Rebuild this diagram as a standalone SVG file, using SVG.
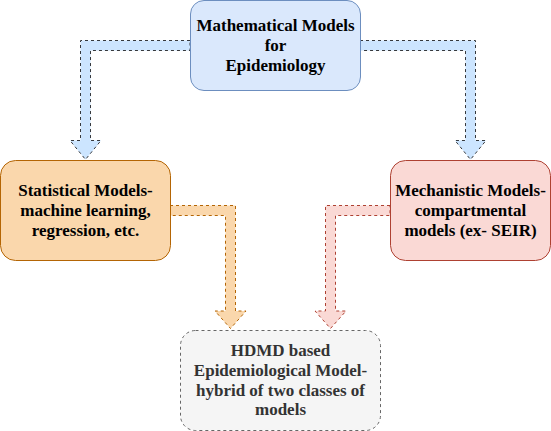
<svg xmlns="http://www.w3.org/2000/svg" width="551" height="431" viewBox="0 0 551 431">
<style>
.arr{stroke-dasharray:3 3;stroke-width:1}
</style>
<rect width="551" height="431" fill="#fff"/>
<g id="connectors">
<path class="arr" d="M190,40.5 L80.5,40.5 L80.5,140.5 L70,140.5 L85.5,159.5 L101,140.5 L90.5,140.5 L90.5,50.5 L190,50.5 Z" fill="#cce5ff" stroke="#36393d"/>
<path class="arr" d="M360,40.5 L475.5,40.5 L475.5,140.5 L486,140.5 L470.5,159.5 L455,140.5 L465.5,140.5 L465.5,50.5 L360,50.5 Z" fill="#cce5ff" stroke="#36393d"/>
<path class="arr" d="M170,205.5 L235.5,205.5 L235.5,311 L246,311 L230.5,328.5 L215,311 L225.5,311 L225.5,215.5 L170,215.5 Z" fill="#fad7ac" stroke="#b46504"/>
<path class="arr" d="M390,205.5 L325.5,205.5 L325.5,311 L315,311 L330.5,328.5 L346,311 L335.5,311 L335.5,215.5 L390,215.5 Z" fill="#fad9d5" stroke="#ae4132"/>
</g>
<g id="math">
<rect x="190.5" y="0.5" width="170" height="90" rx="13.5" fill="#dae8fc" stroke="#6c8ebf"/>
<text x="275.5" y="31" font-family="Liberation Serif" font-size="17" font-weight="bold" text-anchor="middle">Mathematical Models</text>
<text x="275.5" y="51" font-family="Liberation Serif" font-size="17" font-weight="bold" text-anchor="middle">for</text>
<text x="275.5" y="71" font-family="Liberation Serif" font-size="17" font-weight="bold" text-anchor="middle">Epidemiology</text>
</g>
<g id="statistical">
<rect x="0.5" y="160.5" width="170" height="100" rx="15" fill="#fad7ac" stroke="#b46504"/>
<text x="85.5" y="196" font-family="Liberation Serif" font-size="17" font-weight="bold" text-anchor="middle">Statistical Models-</text>
<text x="85.5" y="216" font-family="Liberation Serif" font-size="17" font-weight="bold" text-anchor="middle">machine learning,</text>
<text x="85.5" y="236" font-family="Liberation Serif" font-size="17" font-weight="bold" text-anchor="middle">regression, etc.</text>
</g>
<g id="mechanistic">
<rect x="390.5" y="160.5" width="160" height="100" rx="15" fill="#fad9d5" stroke="#ae4132"/>
<text x="470.5" y="196" font-family="Liberation Serif" font-size="17" font-weight="bold" text-anchor="middle">Mechanistic Models-</text>
<text x="470.5" y="216" font-family="Liberation Serif" font-size="17" font-weight="bold" text-anchor="middle">compartmental</text>
<text x="470.5" y="236" font-family="Liberation Serif" font-size="17" font-weight="bold" text-anchor="middle">models (ex- SEIR)</text>
</g>
<g id="hdmd">
<rect x="180.5" y="330.5" width="200" height="100" rx="15" fill="#f5f5f5" stroke="#666666" stroke-dasharray="3 3"/>
<text x="280.5" y="356" font-family="Liberation Serif" font-size="17" font-weight="bold" text-anchor="middle" fill="#333333">HDMD based</text>
<text x="280.5" y="376" font-family="Liberation Serif" font-size="17" font-weight="bold" text-anchor="middle" fill="#333333">Epidemiological Model-</text>
<text x="280.5" y="396" font-family="Liberation Serif" font-size="17" font-weight="bold" text-anchor="middle" fill="#333333">hybrid of two classes of</text>
<text x="280.5" y="415" font-family="Liberation Serif" font-size="17" font-weight="bold" text-anchor="middle" fill="#333333">models</text>
</g>
</svg>
